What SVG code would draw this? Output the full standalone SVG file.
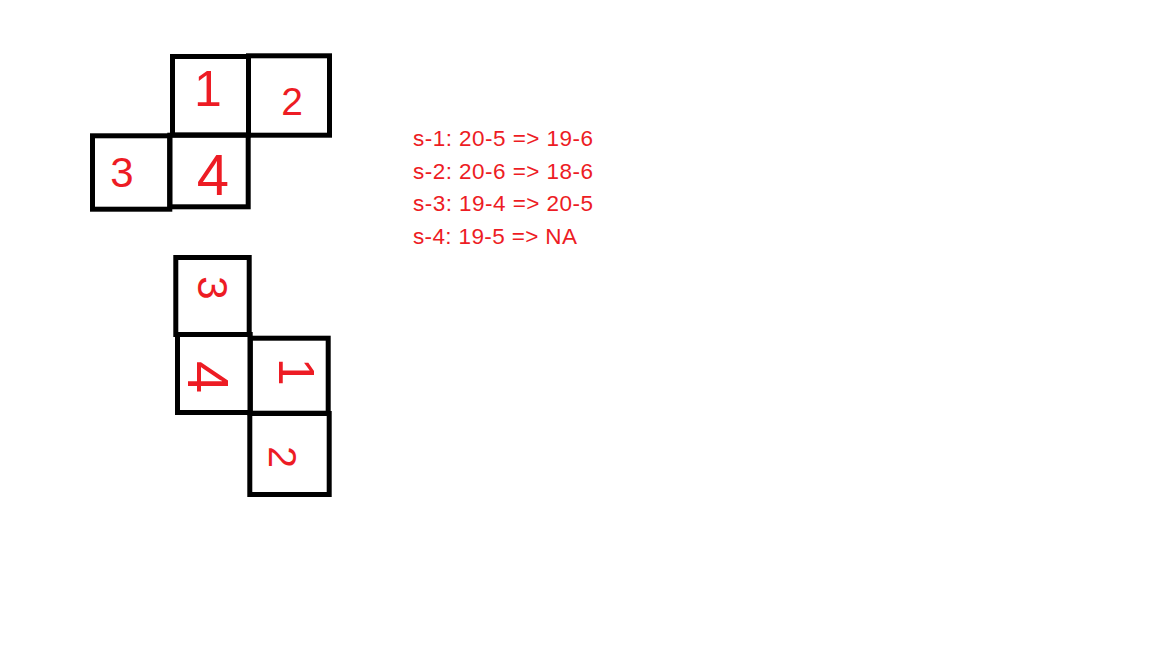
<svg xmlns="http://www.w3.org/2000/svg" width="1152" height="648" viewBox="0 0 1152 648">
<style>
.box{fill:none;stroke:#000;stroke-width:5;stroke-linejoin:miter}
.dg{fill:#ED1C24;font-family:"Liberation Sans",Arial,sans-serif;text-anchor:middle}
.note{fill:#ED1C24;font-family:"Liberation Sans",Arial,sans-serif;font-size:22.5px}
</style>
<rect width="1152" height="648" fill="#fff"/>
<g id="top-net">
<g id="t1"><rect class="box" x="172.5" y="56.5" width="76" height="78.5"/><text class="dg" x="208" y="106" font-size="50">1</text></g>
<g id="t2"><rect class="box" x="248.5" y="55.8" width="81" height="79.4"/><text class="dg" x="292" y="115" font-size="39">2</text></g>
<g id="t3"><rect class="box" x="92.5" y="135.8" width="77.3" height="73.4"/><text class="dg" x="122" y="187" font-size="42">3</text></g>
<g id="t4"><rect class="box" x="169.8" y="135.2" width="78.4" height="71.6"/><text class="dg" x="213" y="195" font-size="58">4</text></g>
</g>
<g id="bottom-net">
<g id="b3"><rect class="box" x="175.8" y="257.5" width="73.4" height="77"/><text class="dg" font-size="42" transform="translate(213 288) rotate(90)" y="15">3</text></g>
<g id="b4"><rect class="box" x="177.5" y="334.5" width="72.7" height="78"/><text class="dg" font-size="58" transform="translate(208 377) rotate(90)" y="20">4</text></g>
<g id="b1"><rect class="box" x="250.2" y="338.2" width="78" height="75"/><text class="dg" font-size="50" transform="translate(297 372) rotate(90)" y="18">1</text></g>
<g id="b2"><rect class="box" x="249.8" y="413.5" width="79.4" height="81"/><text class="dg" font-size="39" transform="translate(283 457) rotate(90)" y="14">2</text></g>
</g>
<g id="notes">
<text class="note" x="413" y="146" textLength="180" lengthAdjust="spacing">s-1: 20-5 =&gt; 19-6</text>
<text class="note" x="413" y="178.5" textLength="180" lengthAdjust="spacing">s-2: 20-6 =&gt; 18-6</text>
<text class="note" x="413" y="211" textLength="180" lengthAdjust="spacing">s-3: 19-4 =&gt; 20-5</text>
<text class="note" x="413" y="243.5" textLength="164" lengthAdjust="spacing">s-4: 19-5 =&gt; NA</text>
</g>
</svg>
